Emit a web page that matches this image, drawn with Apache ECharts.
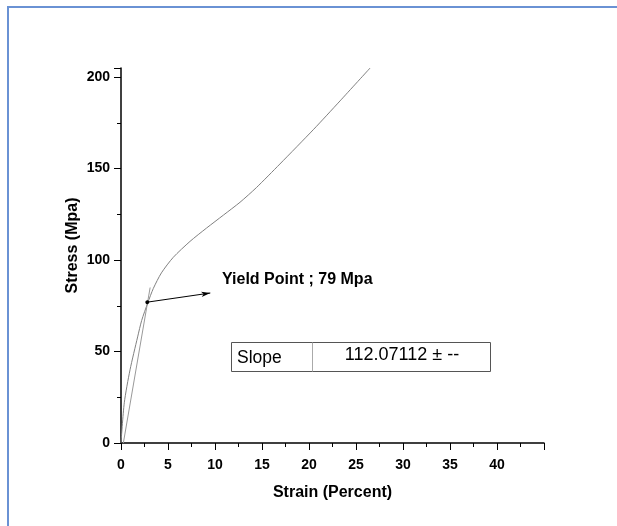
<!DOCTYPE html>
<html>
<head>
<meta charset="utf-8">
<script src="https://cdn.jsdelivr.net/npm/echarts@6/dist/echarts.min.js"></script>
<style>
  html, body { margin: 0; padding: 0; background: #fff; }
  #chart { width: 617px; height: 526px; }
</style>
</head>
<body>
<div id="chart"></div>
<script>
// stress-strain curve
const strain = [0, 0.35, 0.96, 1.77, 2.2, 2.84, 3.44, 4.3, 5.56, 7.34, 9.1, 10.9, 12.66, 14.4, 16.9, 20.5, 23.3, 26.5]
const stress = [0, 22, 40, 58, 67, 76.5, 84.5, 93, 101.5, 110.2, 117.5, 124.6, 131.6, 139.6, 152.5, 171.5, 187, 205]

// linear fit (slope) line
const fitStrain = [0.25, 3.1]
const fitStress = [0, 85]

// yield point arrow
const yieldPoint = [2.8, 77]
const arrowTip = [9.5, 82]

const yieldLabel = 'Yield Point ; 79 Mpa'
const slopeLabel = 'Slope'
const slopeValue = '112.07112 ± --'

const font = '"Liberation Sans", Arial, sans-serif'

const curveData = strain.map((x, i) => [x, stress[i]])
const fitData = fitStrain.map((x, i) => [x, fitStress[i]])

const chart = echarts.init(document.getElementById('chart'))

const axisCommon = {
  type: 'value',
  nameLocation: 'middle',
  nameMoveOverlap: false,
  nameTextStyle: { fontSize: 16, fontWeight: 'bold', color: '#000', fontFamily: font },
  axisLine: { show: true, onZero: false, lineStyle: { color: '#000', width: 1.5 } },
  axisTick: { show: true, length: 7, lineStyle: { color: '#000', width: 1 } },
  minorTick: { show: true, splitNumber: 2, length: 4, lineStyle: { color: '#000', width: 1 } },
  splitLine: { show: false },
  axisLabel: { fontSize: 14, fontWeight: 'bold', color: '#000', fontFamily: font },
}

chart.setOption({
  animation: false,
  backgroundColor: '#fff',
  grid: { left: 121, right: 73, top: 68, bottom: 83 },
  xAxis: {
    ...axisCommon,
    min: 0, max: 45, interval: 5,
    name: 'Strain (Percent)',
    nameGap: 42,
    axisLabel: { ...axisCommon.axisLabel, margin: 15, showMaxLabel: false },
  },
  yAxis: {
    ...axisCommon,
    min: 0, max: 205, interval: 50,
    name: 'Stress (Mpa)',
    nameGap: 40,
    nameTextStyle: { ...axisCommon.nameTextStyle, padding: [0, 0, 0, 20] },
    axisLabel: { ...axisCommon.axisLabel, margin: 11 },
  },
  graphic: [
    {
      type: 'rect',
      shape: { x: 8, y: 7, width: 700, height: 600 },
      style: { fill: 'none', stroke: '#6a92d4', lineWidth: 2 },
      silent: true,
    },
    {
      type: 'text',
      x: 222, y: 280,
      style: { text: yieldLabel, font: 'bold 16px ' + font, fill: '#000', verticalAlign: 'middle' },
    },
    {
      type: 'rect',
      shape: { x: 231.5, y: 342.5, width: 259, height: 29 },
      style: { fill: '#fff', stroke: '#555', lineWidth: 1 },
    },
    {
      type: 'line',
      shape: { x1: 312.5, y1: 342.5, x2: 312.5, y2: 371.5 },
      style: { stroke: '#aaa', lineWidth: 1 },
    },
    {
      type: 'text',
      x: 237, y: 358,
      style: { text: slopeLabel, font: '17.5px ' + font, fill: '#000', verticalAlign: 'middle' },
    },
    {
      type: 'text',
      x: 402, y: 355,
      style: { text: slopeValue, font: '18px ' + font, fill: '#000', align: 'center', verticalAlign: 'middle' },
    },
  ],
  series: [
    {
      type: 'line',
      data: curveData,
      smooth: 0.25,
      symbol: 'none',
      lineStyle: { color: '#808080', width: 1 },
      silent: true,
    },
    {
      type: 'line',
      data: fitData,
      symbol: 'none',
      lineStyle: { color: '#999', width: 1 },
      silent: true,
      markLine: {
        silent: true,
        symbol: ['circle', 'arrow'],
        symbolSize: [4, 9],
        label: { show: false },
        lineStyle: { color: '#000', width: 1, type: 'solid' },
        data: [[{ coord: yieldPoint }, { coord: arrowTip }]],
      },
    },
  ],
})
</script>
</body>
</html>
